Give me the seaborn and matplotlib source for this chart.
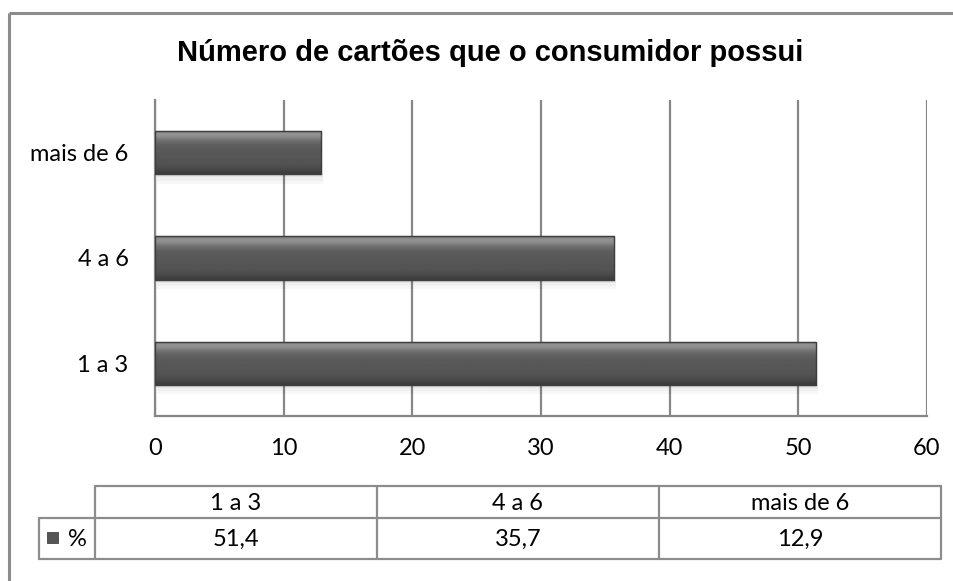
import numpy as np
import pandas as pd
import matplotlib
matplotlib.use("Agg")
import matplotlib.pyplot as plt
import seaborn as sns

# Data: share of consumers by number of cards owned
categories = ["1 a 3", "4 a 6", "mais de 6"]
percent = [51.4, 35.7, 12.9]
value_labels = ["51,4", "35,7", "12,9"]
series_name = "%"
title = "Número de cartões que o consumidor possui"
x_ticks = [0, 10, 20, 30, 40, 50, 60]

sns.set_theme(style="white")
plt.rcParams["font.family"] = ["Lato", "DejaVu Sans"]
plt.rcParams["text.color"] = "black"
plt.rcParams["xtick.color"] = "black"
plt.rcParams["ytick.color"] = "black"

W, H = 954, 581
fig = plt.figure(figsize=(W / 100, H / 100), dpi=100)
fig.patch.set_facecolor("white")

grid_col = "#878787"
border_col = "#8c8c8c"
fs = 17

# Overlay in pixel coordinates for the frame and the data table
bg = fig.add_axes([0, 0, 1, 1], zorder=0)
bg.set_xlim(0, W)
bg.set_ylim(H, 0)
bg.axis("off")

# chart frame (runs off the right/bottom edge)
bg.plot([9, 9], [13, H + 5], color=border_col, lw=2.2, solid_capstyle="butt")
bg.plot([9, W + 5], [13, 13], color=border_col, lw=2.2, solid_capstyle="butt")

# main plot area
px_l, px_r, px_t, px_b = 155, 927, 100, 416
ax = fig.add_axes([px_l / W, 1 - px_b / H, (px_r - px_l) / W, (px_b - px_t) / H], zorder=1)
ax.patch.set_alpha(0)

df = pd.DataFrame({"cat": categories, "val": percent})
order = categories[::-1]
sns.barplot(data=df, x="val", y="cat", order=order, orient="h", width=0.41,
            color="#5a5a5a", edgecolor="#3c3c3c", linewidth=0.8, saturation=1,
            ax=ax, zorder=3)

# bevelled shading on each bar
grad = np.array([0.50, 0.58, 0.55, 0.47, 0.42, 0.38, 0.36, 0.35, 0.35, 0.34,
                 0.34, 0.33, 0.33, 0.32, 0.30, 0.27, 0.24])
for p in ax.patches:
    x0, y0 = p.get_x(), p.get_y()
    w, h = p.get_width(), p.get_height()
    img = ax.imshow(grad[:, None], cmap="gray", vmin=0, vmax=1, aspect="auto",
                    extent=[x0, x0 + w, y0 + h, y0], zorder=4, interpolation="bilinear")
    img.set_clip_path(p)
    ax.add_patch(plt.Rectangle((x0, y0), w, h, fill=False, edgecolor="#3e3e3e",
                               lw=1.0, zorder=5))
    # soft shadow below the bar
    for k, a in enumerate([0.10, 0.06, 0.03]):
        ax.add_patch(plt.Rectangle((x0 + 0.15, y0 + h + k * 0.03), w, 0.03,
                                   color="black", alpha=a, lw=0, zorder=2))

ax.set_xlim(0, 60)
ax.set_ylim(2.5, -0.5)
ax.set_xticks(x_ticks)
ax.set_xticklabels([str(t) for t in x_ticks], fontsize=fs)
ax.tick_params(axis="x", length=0, pad=16, colors="black")
ax.tick_params(axis="y", length=0, pad=19, labelsize=fs, colors="black")
ax.set_xlabel("")
ax.set_ylabel("")
ax.grid(axis="x", color=grid_col, lw=1.6, zorder=1)
ax.grid(axis="y", visible=False)
for s in ["top", "right"]:
    ax.spines[s].set_visible(False)
for s in ["left", "bottom"]:
    ax.spines[s].set_color(grid_col)
    ax.spines[s].set_linewidth(1.6)

fig.text(490 / W, 1 - 53 / H, title, ha="center", va="center", color="black",
         fontsize=21, fontweight="bold", family=["Liberation Sans", "DejaVu Sans"])

# data table under the axis
t_left, t_hdr, col_w = 39, 95, 282
y_top, y_mid, y_bot = 486, 518, 559
lw_t = 1.6
cols_x = [t_hdr + i * col_w for i in range(len(categories) + 1)]
bg.plot([t_hdr, cols_x[-1]], [y_top, y_top], color=border_col, lw=lw_t)
bg.plot([t_left, cols_x[-1]], [y_mid, y_mid], color=border_col, lw=lw_t)
bg.plot([t_left, cols_x[-1]], [y_bot, y_bot], color=border_col, lw=lw_t)
bg.plot([t_left, t_left], [y_mid, y_bot], color=border_col, lw=lw_t)
for cx in cols_x:
    bg.plot([cx, cx], [y_top, y_bot], color=border_col, lw=lw_t)
for i, (c, v) in enumerate(zip(categories, value_labels)):
    xc = cols_x[i] + col_w / 2
    bg.text(xc, (y_top + y_mid) / 2 + 1, c, ha="center", va="center", fontsize=fs, color="black")
    bg.text(xc, (y_mid + y_bot) / 2 + 1, v, ha="center", va="center", fontsize=fs, color="black")
# legend key
bg.add_patch(plt.Rectangle((47, 532), 11, 11, facecolor="#555555", edgecolor="#444444", lw=0.6))
bg.text(68, (y_mid + y_bot) / 2 + 1, series_name, ha="left", va="center", fontsize=fs, color="black")

fig.savefig("out.png", dpi=100, facecolor="white")
